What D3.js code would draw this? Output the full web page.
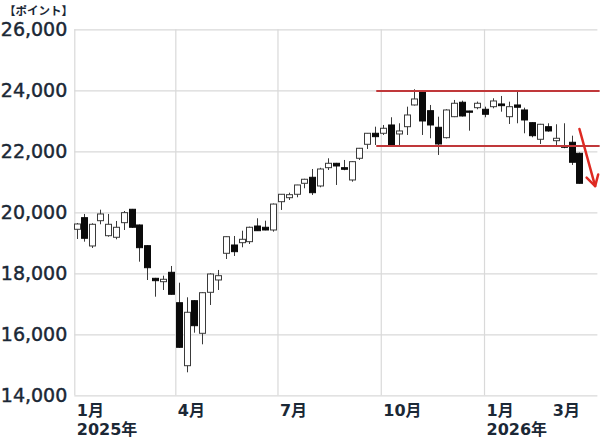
<!DOCTYPE html>
<html>
<head>
<meta charset="utf-8">
<script src="https://cdn.jsdelivr.net/npm/d3@7"></script>
<style>
  html, body { margin: 0; padding: 0; background: #fff; }
  svg { display: block; }
</style>
</head>
<body>
<svg id="chart" width="600" height="439"></svg>
<script>
// ---- data (weekly candles) ----
const dates = [
  "2025-01-03","2025-01-10","2025-01-17","2025-01-24","2025-01-31",
  "2025-02-07","2025-02-14","2025-02-21","2025-02-28",
  "2025-03-07","2025-03-14","2025-03-21","2025-03-28",
  "2025-04-04","2025-04-11","2025-04-18","2025-04-25",
  "2025-05-02","2025-05-09","2025-05-16","2025-05-23","2025-05-30",
  "2025-06-06","2025-06-13","2025-06-20","2025-06-27",
  "2025-07-04","2025-07-11","2025-07-18","2025-07-25",
  "2025-08-01","2025-08-08","2025-08-15","2025-08-22","2025-08-29",
  "2025-09-05","2025-09-12","2025-09-19","2025-09-26",
  "2025-10-03","2025-10-10","2025-10-17","2025-10-24","2025-10-31",
  "2025-11-07","2025-11-14","2025-11-21","2025-11-28",
  "2025-12-05","2025-12-12","2025-12-19","2025-12-26",
  "2026-01-02","2026-01-09","2026-01-16","2026-01-23","2026-01-30",
  "2026-02-06","2026-02-13","2026-02-20","2026-02-27",
  "2026-03-06","2026-03-13","2026-03-20","2026-03-27"
];
const open = [
  19443,19824,18896,19725,19233, 19181,19660,20099,19584,
  18906,17836,17725,18033, 17036,14971,17102,16033,
  17377,17781,18656,18928,19004, 19037,19551,19509,19420,
  20348,20479,20591,20951, 21148,20863,21463,21607,21463,
  21060,21771,22230,22591, 22591,22863,22568,22807,23519,
  23955,23332,22787,22447, 23135,23608,23322,23430,
  23378,23463,23552,23135,23519, 23355,22939,22394,22807,
  22348,22175,22296,21935
];
const high = [
  19650,19945,19640,20086,19945, 19715,20043,20110,19600,
  18920,17850,17922,18240, 17692,17213,17120,17380,
  18000,18109,19210,19223,19397, 19530,19804,19725,20290,
  20600,20643,20900,21100, 21420,21460,21771,21620,21716,
  21680,22110,22600,22807, 22863,23116,22919,23463,24034,
  23970,23519,23135,23380, 23683,23660,23330,23630,
  23463,23739,23814,23627,23988, 23430,22950,22900,22919,
  22886,22919,22512,21960
];
const low = [
  19125,19037,18830,19607,19200, 19115,19420,19490,18381,
  17780,17233,17453,17300, 15560,14754,16053,15672,
  16961,17453,18469,18568,18853, 18961,19390,19410,19365,
  20077,20404,20493,20788, 20568,20820,21387,20896,21380,
  21004,21716,22076,22207, 22535,22190,22207,22535,23500,
  22535,22427,21880,22420, 23120,23140,22676,23378,
  23116,23410,23299,22896,22919, 22591,22460,22240,22643,
  22152,22100,21552,20940
];
const close = [
  19617,19148,19607,19945,19607, 19509,19988,19509,18840,
  18184,17758,17804,17312, 15574,16722,16282,17364,
  17977,17922,19200,18709,19115, 19509,19397,19420,20270,
  20591,20578,20896,21083, 20643,21420,21607,21519,21410,
  21660,22099,22591,22480, 22755,22207,22667,23191,23716,
  22994,22863,22240,23355, 23575,23158,23280,23575,
  23214,23650,23496,23463,23444, 23027,22512,22886,22667,
  22427,22132,21640,20951
];

const yTicks = [14000, 16000, 18000, 20000, 22000, 24000, 26000];
const gridDates = ["2025-01-01","2025-04-01","2025-07-01","2025-10-01","2026-01-01"];
const labelDates = ["2025-01-01","2025-04-01","2025-07-01","2025-10-01","2026-01-01","2026-03-01"];
const monthLabels = ["1月","4月","7月","10月","1月","3月"];
const yearLabels = ["2025年","","","","2026年",""];
const unitLabel = "【ポイント】";

// range lines (annotations)
const rangeLevels = [23980, 22175];
const rangeStart = "2025-09-27";
const rangeEnd = "2026-04-14";
// down arrow
const arrowFrom = { date: "2026-03-27", value: 22730 };
const arrowTo   = { date: "2026-04-10", value: 20860 };

// ---- layout ----
const parse = d3.utcParse("%Y-%m-%d");
const pLeft = 74.3, pRight = 597.4, pTop = 29.3, pBottom = 395.3;

const x = d3.scaleUtc()
  .domain([parse("2025-01-01"), parse("2026-04-12")])
  .range([pLeft, pRight]);
const y = d3.scaleLinear().domain([14000, 26000]).range([pBottom, pTop]);

const svg = d3.select("#chart");
const textColor = "#1b2836";

// horizontal grid + y labels
const yAxis = d3.axisLeft(y)
  .tickValues(yTicks)
  .tickSize(-(pRight - pLeft))
  .tickPadding(7)
  .tickFormat(d3.format(","));
const gy = svg.append("g").attr("transform", `translate(${pLeft},0)`).call(yAxis);
gy.select(".domain").remove();
gy.selectAll(".tick line").attr("stroke", "#d9d9d9").attr("stroke-width", 1.2);
gy.selectAll(".tick text")
  .attr("fill", textColor)
  .attr("stroke", textColor)
  .attr("stroke-width", 0.45)
  .style("font-family", "'DejaVu Sans', sans-serif")
  .style("font-size", "19px");

// vertical grid
const gridAxis = d3.axisBottom(x)
  .tickValues(gridDates.map(parse))
  .tickSize(-(pBottom - pTop))
  .tickFormat("");
const gg = svg.append("g").attr("transform", `translate(0,${pBottom})`).call(gridAxis);
gg.select(".domain").remove();
gg.selectAll(".tick line").attr("stroke", "#d9d9d9").attr("stroke-width", 1.2);

// x labels
const labelAxis = d3.axisBottom(x)
  .tickValues(labelDates.map(parse))
  .tickSize(0)
  .tickPadding(0)
  .tickFormat((d, i) => monthLabels[i]);
const gl = svg.append("g").attr("transform", `translate(0,${pBottom})`).call(labelAxis);
gl.select(".domain").remove();
gl.selectAll(".tick text").each(function(d, i) {
  const t = d3.select(this);
  t.text(null)
    .attr("text-anchor", "start")
    .attr("x", 2)
    .attr("y", 0)
    .attr("dy", null)
    .attr("fill", textColor)
    .style("font-family", "'DejaVu Sans', 'Noto Sans CJK JP', sans-serif")
    .style("font-weight", "bold")
    .style("font-size", "16px");
  t.append("tspan").attr("x", 2).attr("y", 21).text(monthLabels[i]);
  if (yearLabels[i]) t.append("tspan").attr("x", 2).attr("y", 40).text(yearLabels[i]);
});

// unit label
svg.append("text")
  .attr("x", 4).attr("y", 15)
  .attr("fill", textColor)
  .style("font-family", "'Noto Sans CJK JP', sans-serif")
  .style("font-weight", "bold")
  .style("font-size", "11.5px")
  .text(unitLabel);

// candles
const candles = dates.map((d, i) => ({
  date: parse(d), o: open[i], h: high[i], l: low[i], c: close[i]
}));
const bodyW = 6;
const g = svg.append("g");
const cg = g.selectAll("g.candle").data(candles).join("g").attr("class", "candle");
cg.append("line")
  .attr("x1", d => Math.round(x(d.date)) + 0.5)
  .attr("x2", d => Math.round(x(d.date)) + 0.5)
  .attr("y1", d => y(d.h))
  .attr("y2", d => y(d.l))
  .attr("stroke", "#3a3a3a")
  .attr("stroke-width", 1);
cg.append("rect")
  .attr("x", d => Math.round(x(d.date)) - bodyW / 2 + 0.5)
  .attr("width", bodyW)
  .attr("y", d => y(Math.max(d.o, d.c)))
  .attr("height", d => Math.max(1, Math.abs(y(d.o) - y(d.c))))
  .attr("fill", d => d.c >= d.o ? "#ffffff" : "#0a0a0a")
  .attr("stroke", d => d.c >= d.o ? "#3a3a3a" : "#0a0a0a")
  .attr("stroke-width", 1);

// range lines
svg.append("g").selectAll("line").data(rangeLevels).join("line")
  .attr("x1", x(parse(rangeStart)))
  .attr("x2", x(parse(rangeEnd)))
  .attr("y1", d => y(d))
  .attr("y2", d => y(d))
  .attr("stroke", "#c0383a")
  .attr("stroke-width", 2);

// arrow
const ax1 = x(parse(arrowFrom.date)), ay1 = y(arrowFrom.value);
const ax2 = x(parse(arrowTo.date)), ay2 = y(arrowTo.value);
const ang = Math.atan2(ay2 - ay1, ax2 - ax1);
const headLen = 12, headAng = Math.PI / 6;
const arrowColor = "#de2a22";
svg.append("line")
  .attr("x1", ax1).attr("y1", ay1).attr("x2", ax2).attr("y2", ay2)
  .attr("stroke", arrowColor).attr("stroke-width", 2.5).attr("stroke-linecap", "round");
svg.append("path")
  .attr("d", d3.line()([
    [ax2 - headLen * Math.cos(ang - headAng), ay2 - headLen * Math.sin(ang - headAng)],
    [ax2, ay2],
    [ax2 - headLen * Math.cos(ang + headAng), ay2 - headLen * Math.sin(ang + headAng)]
  ]))
  .attr("fill", "none")
  .attr("stroke", arrowColor).attr("stroke-width", 2.5)
  .attr("stroke-linecap", "round").attr("stroke-linejoin", "round");
</script>
</body>
</html>
